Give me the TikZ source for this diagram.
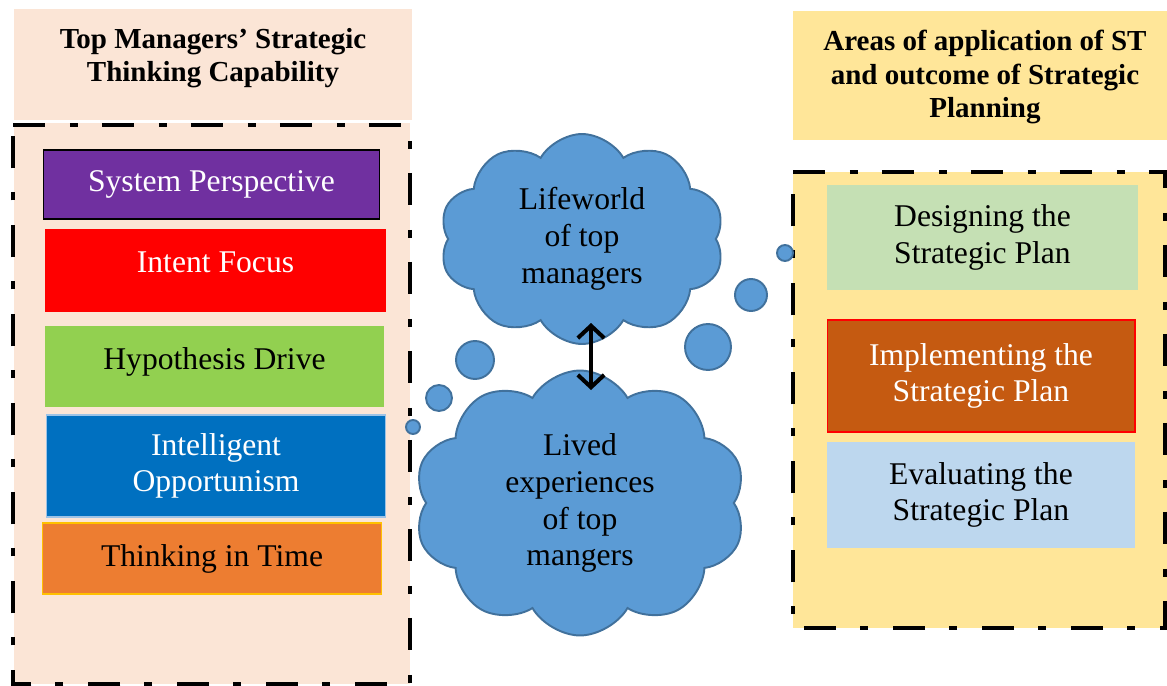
\documentclass[tikz,border=0pt]{standalone}
\usepackage{fontspec}
\setmainfont{Liberation Serif}
\usetikzlibrary{shapes.symbols,fit,arrows.meta}

\definecolor{peach}{RGB}{251,229,214}
\definecolor{sand}{RGB}{255,230,153}
\definecolor{sysviolet}{RGB}{112,48,160}
\definecolor{hypgreen}{RGB}{146,208,80}
\definecolor{oppblue}{RGB}{0,112,192}
\definecolor{oppline}{RGB}{157,195,230}
\definecolor{timeorange}{RGB}{237,125,49}
\definecolor{timeline}{RGB}{255,192,0}
\definecolor{designgreen}{RGB}{197,224,180}
\definecolor{implbrown}{RGB}{197,90,17}
\definecolor{evalblue}{RGB}{189,215,238}
\definecolor{cloudblue}{RGB}{91,155,213}
\definecolor{cloudline}{RGB}{65,113,156}

\tikzset{
  headbox/.style={inner sep=0pt, align=center, font=\bfseries\fontsize{16.5}{19}\selectfont},
  arealine/.style={line width=2.8pt, dash pattern=on 0.64cm off 0.5cm on 0.16cm off 0.48cm},
  itembox/.style={inner sep=0pt, align=center, line width=0.6pt, font=\fontsize{18}{20.7}\selectfont},
  thought/.style={cloud, cloud puffs=10, cloud puff arc=120, draw=cloudline, fill=cloudblue,
    line width=1.1pt, align=center, inner sep=0pt, font=\fontsize{18}{21}\selectfont},
  bubble/.style={circle, draw=cloudline, fill=cloudblue, line width=1.1pt, inner sep=0pt},
  twoway/.style={line width=2.3pt, {Straight Barb[length=7pt,width=15pt]}-{Straight Barb[length=7pt,width=15pt]}},
}

\begin{document}
\begin{tikzpicture}[x=0.02cm, y=-0.02cm]
    \useasboundingbox (0,0) rectangle (1167,686);

    % 左侧标题
    \node [fill=peach, inner sep=0pt, fit={(14,9) (412,120)}] (lefthead) {};
    \node [headbox] (lefttitle) at (213,58) {Top Managers' Strategic\\Thinking Capability};

    % 右侧标题
    \node [fill=sand, inner sep=0pt, fit={(793,11) (1167,140)}] (righthead) {};
    \node [headbox] (righttitle) at (985,77) {Areas of application of ST\\and outcome of Strategic\\Planning};

    % 左侧虚线框
    \node [fill=peach, inner sep=0pt, fit={(14,123) (410,684)}] (leftarea) {};
    \draw [arealine] (13,125) -- (410,125) -- (410,684) -- (13,684) -- cycle;

    % 右侧虚线框
    \node [fill=sand, inner sep=0pt, fit={(793,172) (1167,628)}] (rightarea) {};
    \draw [arealine] (793,172) -- (1165,172) -- (1165,628) -- (793,628) -- cycle;

    % 战略思维能力
    \node [itembox, draw=black, fill=sysviolet, text=white, minimum width=6.74cm, minimum height=1.38cm] (sysp) at (211.5,184.5) {System Perspective};
    \node [itembox, draw=red, fill=red, text=white, minimum width=6.82cm, minimum height=1.62cm, text depth=0.34cm] (intent) at (215.5,270.5) {Intent Focus};
    \node [itembox, draw=hypgreen, fill=hypgreen, minimum width=6.78cm, minimum height=1.58cm, text depth=0.3cm] (hypo) at (214.5,366.5) {Hypothesis Drive};
    \node [itembox, draw=oppline, fill=oppblue, text=white, minimum width=6.8cm, minimum height=2.04cm] (oppo) at (216,466) {Intelligent\\Opportunism};
    \node [itembox, draw=timeline, fill=timeorange, minimum width=6.8cm, minimum height=1.42cm] (intime) at (212,558.5) {Thinking in Time};

    % 战略规划
    \node [itembox, fill=designgreen, minimum width=6.22cm, minimum height=2.1cm] (design) at (982.5,237.5) {Designing the\\Strategic Plan};
    \node [itembox, draw=red, fill=implbrown, text=white, minimum width=6.16cm, minimum height=2.24cm] (implement) at (981,376) {Implementing the\\Strategic Plan};
    \node [itembox, fill=evalblue, minimum width=6.16cm, minimum height=2.12cm] (evaluate) at (981,495) {Evaluating the\\Strategic Plan};

    % 云
    \node [thought, minimum width=5.7cm, minimum height=4.2cm] (lifeworld) at (582,239) {Lifeworld\\of top\\managers};
    \node [thought, minimum width=6.64cm, minimum height=5.3cm] (lived) at (580,503) {Lived\\experiences\\of top\\mangers};

    % 小圆
    \node [bubble, minimum size=0.32cm] (rbub1) at (785,253) {};
    \node [bubble, minimum size=0.64cm] (rbub2) at (751,295) {};
    \node [bubble, minimum size=0.92cm] (rbub3) at (708,347) {};
    \node [bubble, minimum size=0.76cm] (lbub1) at (475,360) {};
    \node [bubble, minimum size=0.52cm] (lbub2) at (439,398) {};
    \node [bubble, minimum size=0.28cm] (lbub3) at (413,427) {};

    % 双向箭头
    \coordinate (arrtop) at (591,323);
    \coordinate (arrbot) at (591,390);
    \draw [twoway] (arrtop) -- (arrbot);

\end{tikzpicture}
\end{document}
